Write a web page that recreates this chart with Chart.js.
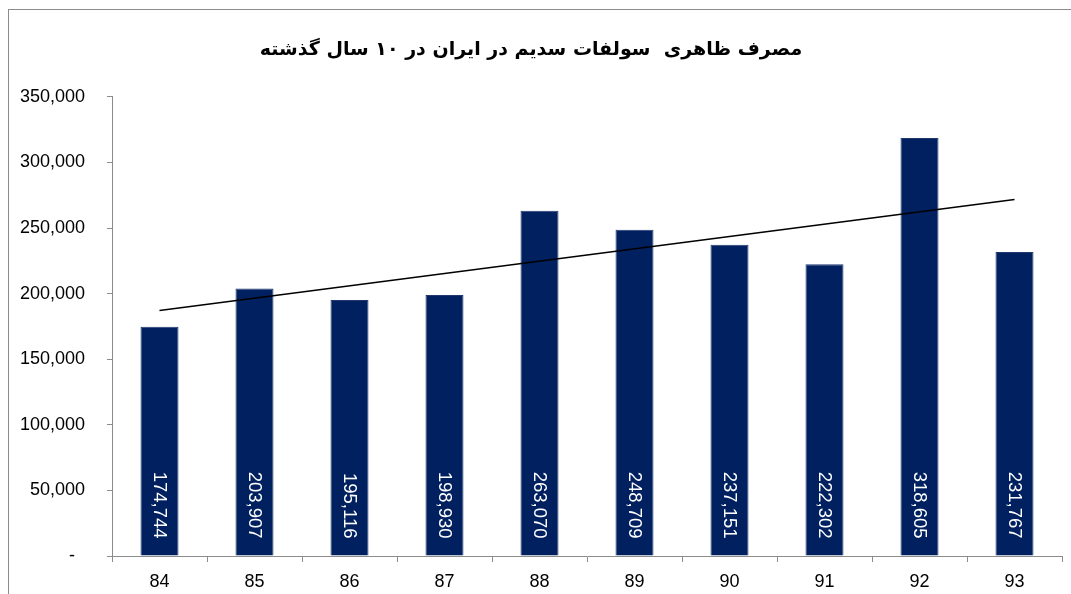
<!DOCTYPE html>
<html>
<head>
<meta charset="utf-8">
<script src="https://cdn.jsdelivr.net/npm/chart.js@4/dist/chart.umd.min.js"></script>
<style>
  html, body { margin: 0; padding: 0; background: #fff; }
  #wrap { width: 1071px; height: 594px; position: relative; }
</style>
</head>
<body>
<div id="wrap"><canvas id="c" width="1071" height="594"></canvas></div>
<script>
const titleText = 'مصرف ظاهری  سولفات سدیم در ایران در ۱۰ سال گذشته';
const categories = ['84', '85', '86', '87', '88', '89', '90', '91', '92', '93'];
const consumption = [174744, 203907, 195116, 198930, 263070, 248709, 237151, 222302, 318605, 231767];
// linear trendline (start at 84, end at 93)
const trendLine = [187100, null, null, null, null, null, null, null, null, 271800];
const yTicks = [0, 50000, 100000, 150000, 200000, 250000, 300000, 350000];

const fmt = v => v === 0 ? '-  ' : v.toLocaleString('en-US');

const borderPlugin = {
  id: 'outerBorder',
  beforeDraw(chart) {
    const ctx = chart.ctx;
    ctx.save();
    ctx.fillStyle = '#fff';
    ctx.fillRect(0, 0, chart.width, chart.height);
    ctx.strokeStyle = '#8c8c8c';
    ctx.lineWidth = 1;
    ctx.strokeRect(8.5, 9.5, 1200, 800);
    ctx.restore();
  }
};

const barLabelPlugin = {
  id: 'barLabels',
  afterDatasetsDraw(chart) {
    const meta = chart.getDatasetMeta(0);
    const ctx = chart.ctx;
    ctx.save();
    ctx.fillStyle = '#ffffff';
    ctx.font = '18.5px "Liberation Sans", Arial, sans-serif';
    ctx.textAlign = 'right';
    ctx.textBaseline = 'middle';
    meta.data.forEach((bar, i) => {
      const base = bar.base;
      ctx.save();
      ctx.translate(bar.x, base - 17);
      ctx.rotate(Math.PI / 2);
      ctx.fillText(fmt(consumption[i]), 0, 0);
      ctx.restore();
    });
    ctx.restore();
  }
};

new Chart(document.getElementById('c'), {
  data: {
    labels: categories,
    datasets: [
      {
        type: 'bar',
        data: consumption,
        backgroundColor: '#002060',
        borderColor: '#20386e',
        borderWidth: 1,
        barPercentage: 0.8,
        categoryPercentage: 0.5,
        order: 2
      },
      {
        type: 'line',
        data: trendLine,
        spanGaps: true,
        borderColor: '#000000',
        borderWidth: 1.5,
        pointRadius: 0,
        fill: false,
        order: 1
      }
    ]
  },
  options: {
    responsive: false,
    animation: false,
    devicePixelRatio: 1,
    layout: { padding: { top: 12, right: 9, left: 0, bottom: 0 } },
    plugins: {
      legend: { display: false },
      tooltip: { enabled: false },
      title: {
        display: true,
        text: titleText,
        color: '#000',
        font: { family: '"DejaVu Sans", sans-serif', size: 19, weight: 'bold' },
        padding: { top: 27, bottom: 35 }
      }
    },
    scales: {
      x: {
        offset: true,
        grid: { display: true, drawOnChartArea: false, offset: true, tickLength: 6, tickColor: '#8c8c8c' },
        border: { display: true, color: '#8c8c8c' },
        ticks: { color: '#000', font: { family: '"Liberation Sans", Arial, sans-serif', size: 18 }, padding: 9 },
        afterFit(scale) { scale.height = 38; }
      },
      y: {
        min: 0,
        max: 350000,
        afterBuildTicks(scale) { scale.ticks = yTicks.map(v => ({ value: v })); },
        grid: { display: true, drawOnChartArea: false, tickLength: 5, tickColor: '#8c8c8c' },
        border: { display: true, color: '#8c8c8c' },
        ticks: {
          color: '#000',
          font: { family: '"Liberation Sans", Arial, sans-serif', size: 18 },
          padding: 22,
          callback: v => fmt(v)
        },
        afterFit(scale) { scale.width = 112; }
      }
    }
  },
  plugins: [borderPlugin, barLabelPlugin]
});
</script>
</body>
</html>
